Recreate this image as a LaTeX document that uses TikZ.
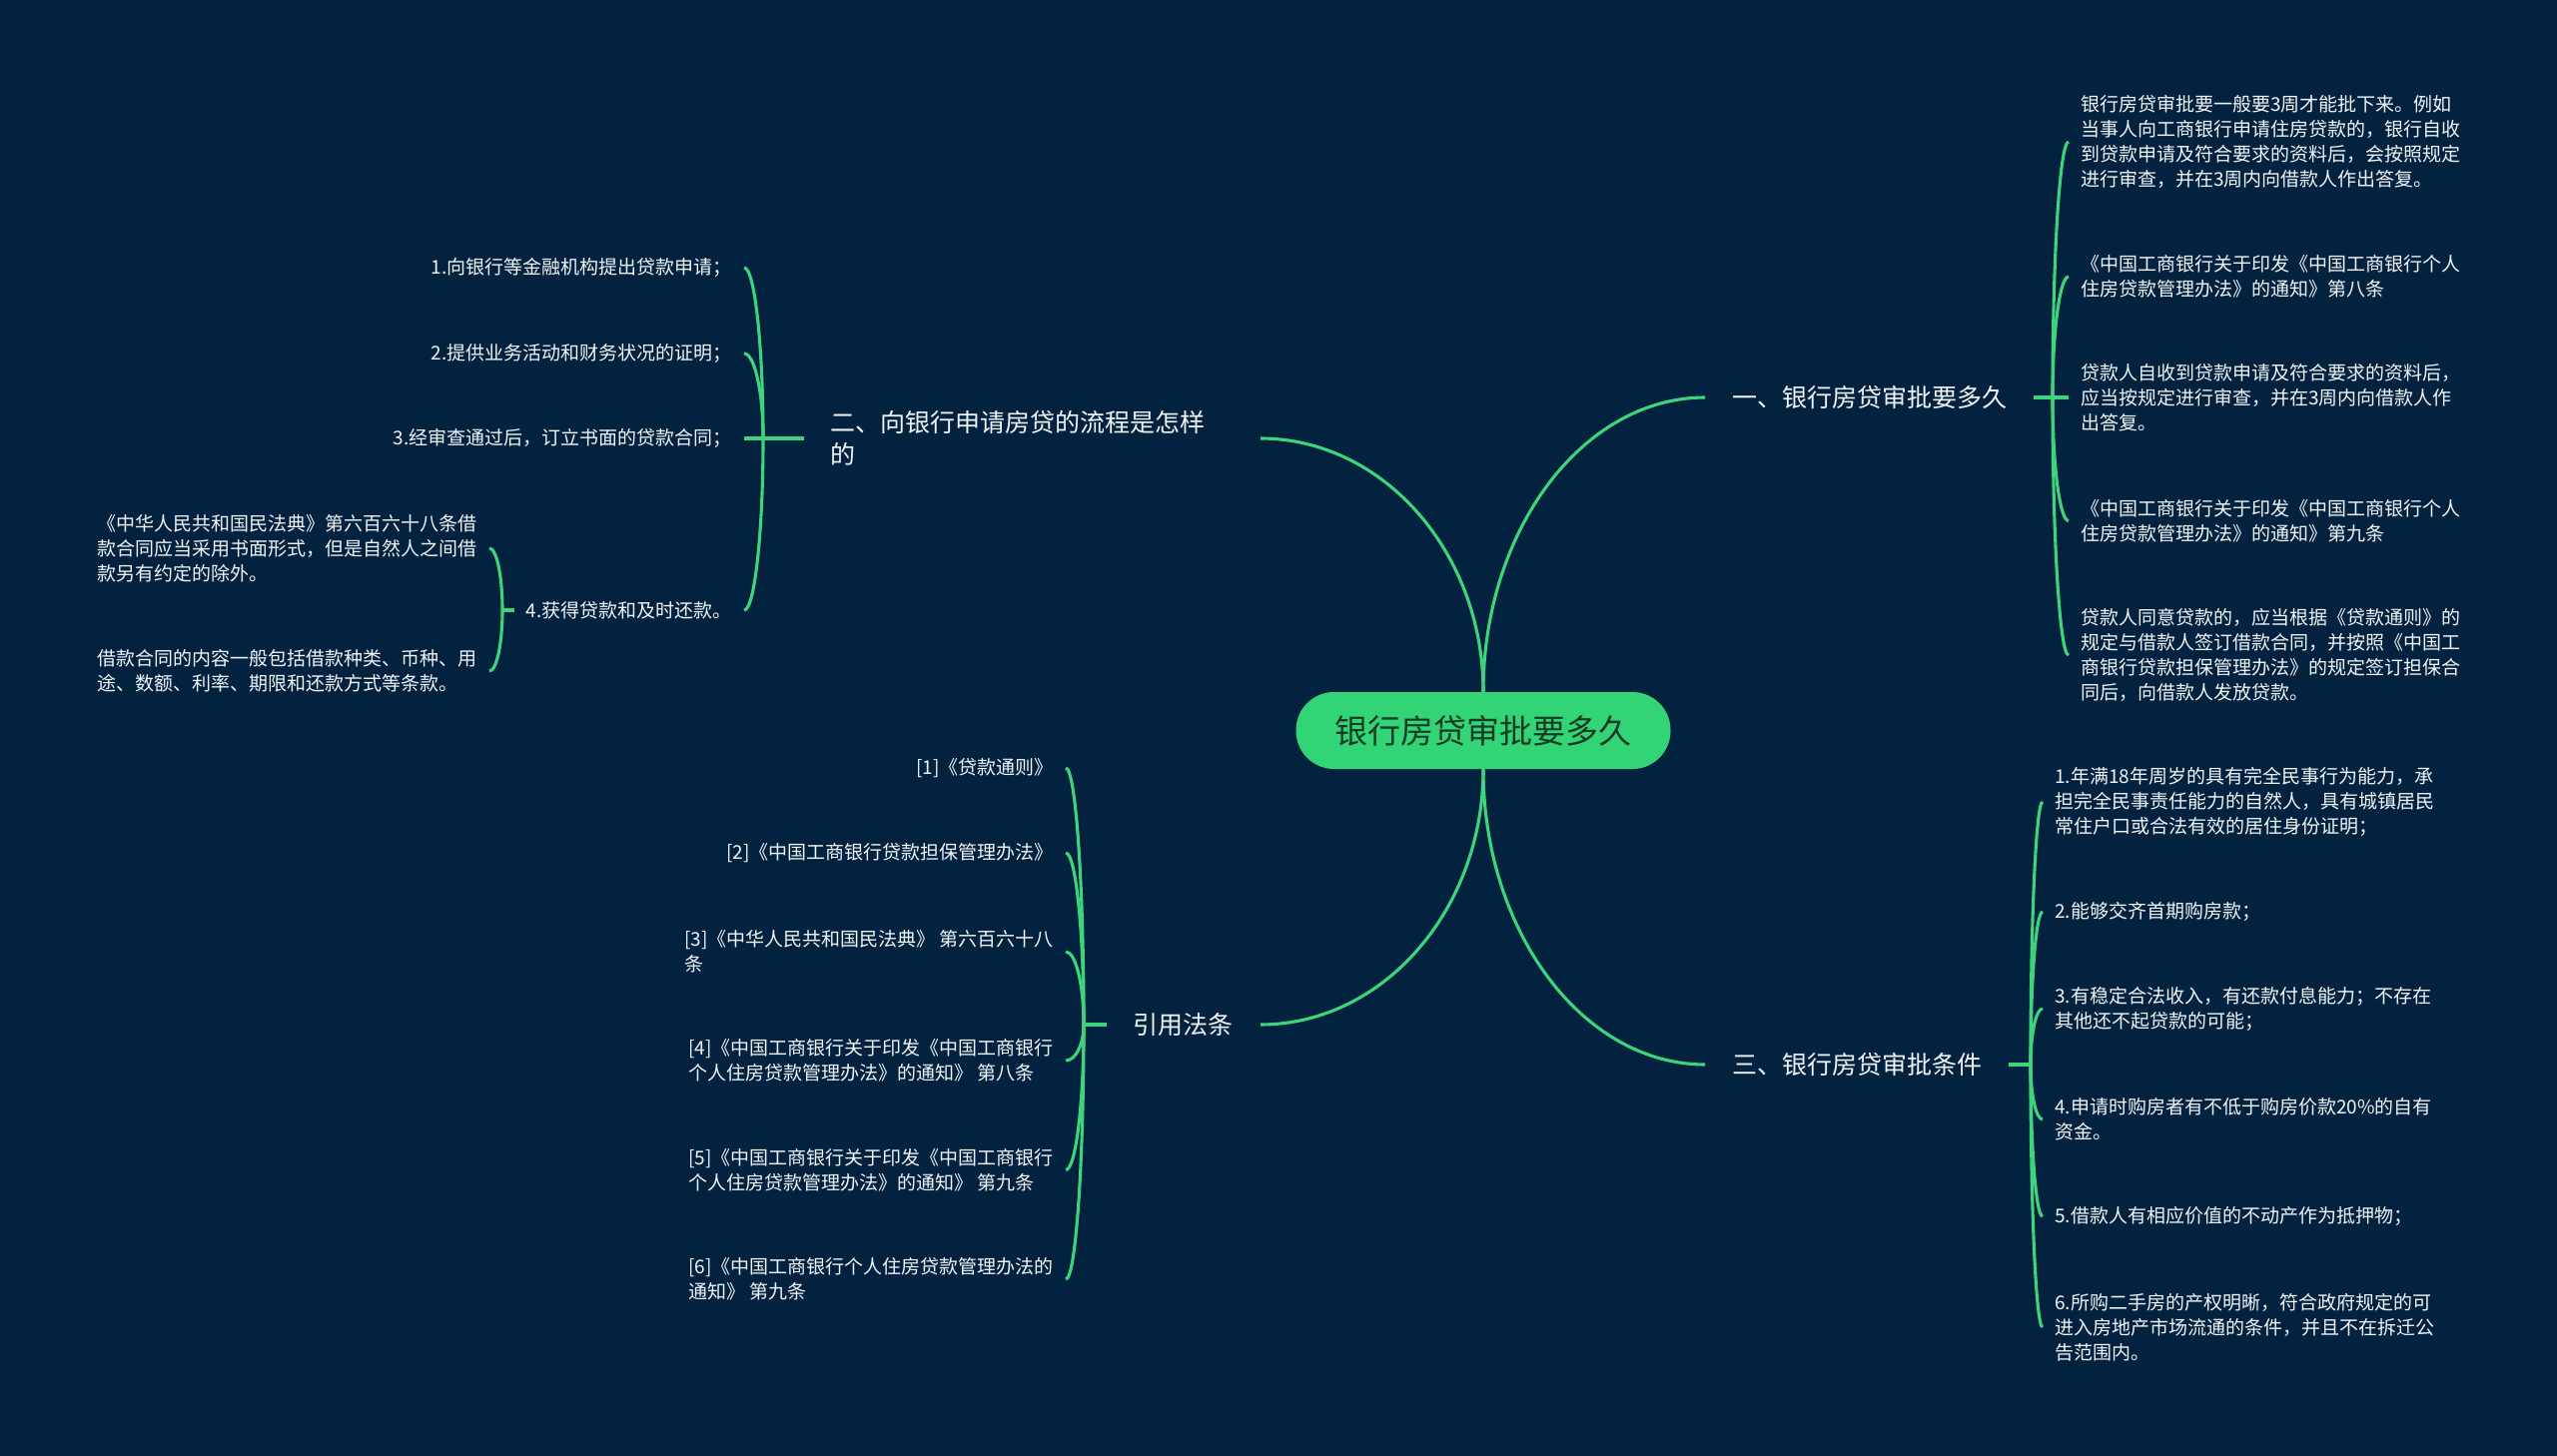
\documentclass[tikz,border=0pt]{standalone}
\usepackage{fontspec}
\setmainfont{Noto Sans CJK SC}
\usetikzlibrary{calc}
\definecolor{bgc}{RGB}{2,34,63}
\definecolor{lnc}{RGB}{62,212,124}
\definecolor{rootc}{RGB}{50,212,117}
\definecolor{roottxt}{RGB}{24,58,38}
\definecolor{txtc}{RGB}{242,245,247}
\newcommand\mmlink[2]{\draw[conn] (#1) .. controls ($(#1)!0.55!(#1 |- #2)$) and ($(#2)!0.55!(#1 |- #2)$) .. (#2);}
\begin{document}
\begin{tikzpicture}[x=1pt,y=-1pt,
 conn/.style={draw=lnc,line width=3.1pt},
 rootbox/.style={fill=rootc,text=roottxt,rounded corners=38pt,minimum width=375pt,minimum height=77pt,inner sep=0pt,font=\fontsize{33}{38}\selectfont},
 brbox/.style={text=txtc,font=\fontsize{25}{32}\selectfont,inner xsep=27pt,inner ysep=3pt,align=left},
 leafbox/.style={text=txtc,font=\fontsize{19}{25}\selectfont,inner xsep=12pt,inner ysep=2pt,align=left}]
\useasboundingbox (0,0) rectangle (2560,1458);
\fill[bgc] (0,0) rectangle (2560,1458);

% root
\node[rootbox] (root) at (1485,731.5) {银行房贷审批要多久};

% branches
\node[brbox,anchor=west] (b1) at (1707,398) {一、银行房贷审批要多久};
\node[brbox,anchor=west] (b3) at (1707,1066) {三、银行房贷审批条件};
\node[brbox,anchor=east,text width=403pt] (b2) at (1262,439) {二、向银行申请房贷的流程是怎样\\的};
\node[brbox,anchor=east] (b4) at (1262,1026) {引用法条};

% junctions
\coordinate (j1) at (2055,398);
\coordinate (j3) at (2033,1066);
\coordinate (j2) at (764,439);
\coordinate (j4) at (1085,1026);

% branch 1 leaves
\node[leafbox,anchor=west] (l11) at (2071,142) {银行房贷审批要一般要3周才能批下来。例如\\当事人向工商银行申请住房贷款的，银行自收\\到贷款申请及符合要求的资料后，会按照规定\\进行审查，并在3周内向借款人作出答复。};
\node[leafbox,anchor=west] (l12) at (2071,277) {《中国工商银行关于印发《中国工商银行个人\\住房贷款管理办法》的通知》第八条};
\node[leafbox,anchor=west] (l13) at (2071,398) {贷款人自收到贷款申请及符合要求的资料后，\\应当按规定进行审查，并在3周内向借款人作\\出答复。};
\node[leafbox,anchor=west] (l14) at (2071,521.5) {《中国工商银行关于印发《中国工商银行个人\\住房贷款管理办法》的通知》第九条};
\node[leafbox,anchor=west] (l15) at (2071,656) {贷款人同意贷款的，应当根据《贷款通则》的\\规定与借款人签订借款合同，并按照《中国工\\商银行贷款担保管理办法》的规定签订担保合\\同后，向借款人发放贷款。};

% branch 3 leaves
\node[leafbox,anchor=west] (l31) at (2045,803) {1.年满18年周岁的具有完全民事行为能力，承\\担完全民事责任能力的自然人，具有城镇居民\\常住户口或合法有效的居住身份证明；};
\node[leafbox,anchor=west] (l32) at (2045,913) {2.能够交齐首期购房款；};
\node[leafbox,anchor=west] (l33) at (2045,1010) {3.有稳定合法收入，有还款付息能力；不存在\\其他还不起贷款的可能；};
\node[leafbox,anchor=west] (l34) at (2045,1121) {4.申请时购房者有不低于购房价款20\%的自有\\资金。};
\node[leafbox,anchor=west] (l35) at (2045,1218) {5.借款人有相应价值的不动产作为抵押物；};
\node[leafbox,anchor=west] (l36) at (2045,1329) {6.所购二手房的产权明晰，符合政府规定的可\\进入房地产市场流通的条件，并且不在拆迁公\\告范围内。};

% branch 2 leaves
\node[leafbox,anchor=east] (l21) at (745,268) {1.向银行等金融机构提出贷款申请；};
\node[leafbox,anchor=east] (l22) at (745,354) {2.提供业务活动和财务状况的证明；};
\node[leafbox,anchor=east] (l23) at (745,439) {3.经审查通过后，订立书面的贷款合同；};
\node[leafbox,anchor=east] (l24) at (745,611) {4.获得贷款和及时还款。};
\coordinate (j24) at (503,611);
\node[leafbox,anchor=east] (s1) at (490,549) {《中华人民共和国民法典》第六百六十八条借\\款合同应当采用书面形式，但是自然人之间借\\款另有约定的除外。};
\node[leafbox,anchor=east] (s2) at (490,672) {借款合同的内容一般包括借款种类、币种、用\\途、数额、利率、期限和还款方式等条款。};

% branch 4 leaves
\node[leafbox,anchor=east] (l41) at (1067,769) {[1]《贷款通则》};
\node[leafbox,anchor=east] (l42) at (1067,854) {[2]《中国工商银行贷款担保管理办法》};
\node[leafbox,anchor=east] (l43) at (1067,953) {[3]《中华人民共和国民法典》 第六百六十八\\条};
\node[leafbox,anchor=east] (l44) at (1067,1062) {[4]《中国工商银行关于印发《中国工商银行\\个人住房贷款管理办法》的通知》 第八条};
\node[leafbox,anchor=east] (l45) at (1067,1171.5) {[5]《中国工商银行关于印发《中国工商银行\\个人住房贷款管理办法》的通知》 第九条};
\node[leafbox,anchor=east] (l46) at (1067,1281) {[6]《中国工商银行个人住房贷款管理办法的\\通知》 第九条};

% main curves
\mmlink{root.north}{b1.west}
\mmlink{root.north}{b2.east}
\mmlink{root.south}{b3.west}
\mmlink{root.south}{b4.east}

% stubs
\draw[conn] (b1.east) -- (j1);
\draw[conn] (b3.east) -- (j3);
\draw[conn] (b2.west) -- (j2);
\draw[conn] (b4.west) -- (j4);
\draw[conn] (l24.west) -- (j24);

% brace curves
\foreach \n in {l11,l12,l13,l14,l15} {\mmlink{j1}{\n.west}}
\foreach \n in {l31,l32,l33,l34,l35,l36} {\mmlink{j3}{\n.west}}
\foreach \n in {l21,l22,l23,l24} {\mmlink{j2}{\n.east}}
\foreach \n in {s1,s2} {\mmlink{j24}{\n.east}}
\foreach \n in {l41,l42,l43,l44,l45,l46} {\mmlink{j4}{\n.east}}
\end{tikzpicture}
\end{document}
